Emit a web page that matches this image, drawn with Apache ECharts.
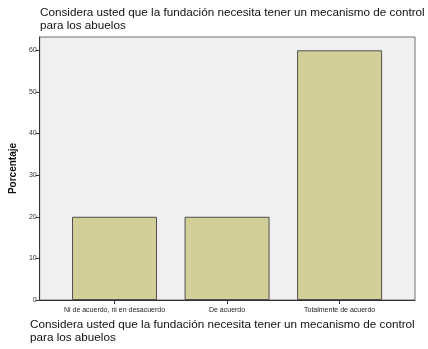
<!DOCTYPE html>
<html>
<head>
<meta charset="utf-8">
<script src="https://cdn.jsdelivr.net/npm/echarts@6/dist/echarts.min.js"></script>
<style>html,body{margin:0;padding:0;background:#fff}#c{width:428px;height:349px}</style>
</head>
<body>
<div id="c"></div>
<script>
const titleText = "Considera usted que la fundación necesita tener un mecanismo de control\npara los abuelos";
const categories = ["Ni de acuerdo, ni en desacuerdo", "De acuerdo", "Totalmente de acuerdo"];
const values = [20, 20, 60];
const yTicks = [0, 10, 20, 30, 40, 50, 60];
const yName = "Porcentaje";

const chart = echarts.init(document.getElementById('c'), null, {renderer: 'canvas'});
const font = "'Liberation Sans', Arial, sans-serif";
const catIdx = categories.map((_, i) => i);
chart.setOption({
  animation: false,
  backgroundColor: '#ffffff',
  title: [
    {text: titleText, left: 40, top: 6, padding: 0, textStyle: {fontFamily: font, fontSize: 11.7, fontWeight: 'normal', color: '#111', lineHeight: 13.5}},
    {text: titleText, left: 30, top: 318, padding: 0, textStyle: {fontFamily: font, fontSize: 11.7, fontWeight: 'normal', color: '#111', lineHeight: 13.5}}
  ],
  grid: {left: 38, right: 13, top: 37, bottom: 49, show: true, backgroundColor: '#f0f0f0', borderColor: '#6e6e6e', borderWidth: 1},
  xAxis: {
    type: 'value', min: -0.665, max: 2.67,
    axisLine: {show: true, onZero: false, lineStyle: {color: '#333'}},
    axisTick: {show: true, length: 4, lineStyle: {color: '#333'}, customValues: catIdx},
    axisLabel: {customValues: catIdx, formatter: v => categories[Math.round(v)] || '', fontFamily: font, fontSize: 7, color: '#222', margin: 7},
    splitLine: {show: false}
  },
  yAxis: {
    type: 'value', min: 0, max: 63.2,
    name: yName, nameLocation: 'middle', nameGap: 21,
    nameTextStyle: {fontFamily: font, fontSize: 10, fontWeight: 'bold', color: '#111'},
    axisLine: {show: true, onZero: false, lineStyle: {color: '#333'}},
    axisTick: {show: true, length: 4, lineStyle: {color: '#333'}, customValues: yTicks},
    axisLabel: {customValues: yTicks, fontFamily: font, fontSize: 7, color: '#333', margin: 3},
    splitLine: {show: false}
  },
  series: [{
    type: 'bar',
    data: values.map((v, i) => [i, v]),
    barWidth: 85,
    itemStyle: {color: '#d3cf98', borderColor: '#505050', borderWidth: 1}
  }]
});
</script>
</body>
</html>
